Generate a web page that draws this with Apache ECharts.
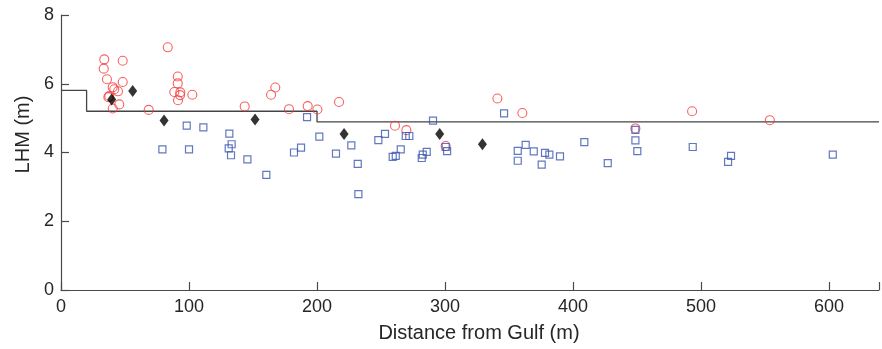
<!DOCTYPE html>
<html>
<head>
<meta charset="utf-8">
<script src="https://cdn.jsdelivr.net/npm/echarts@6/dist/echarts.min.js"></script>
<style>
html,body{margin:0;padding:0;background:#fff;}
#c{width:882px;height:349px;}
</style>
</head>
<body>
<div id="c"></div>
<script>
// ---- data (x = distance from Gulf in m, y = LHM in m) ----
const redCircles = [
  [33.8,6.71],[33.4,6.44],[48.2,6.67],[35.9,6.13],[48.2,6.05],[40.4,5.90],[44.5,5.78],
  [41.6,5.84],[37.7,5.64],[37.0,5.61],[45.5,5.40],[40.4,5.28],[68.5,5.24],[83.4,7.06],
  [91.2,6.21],[91.2,6.01],[88.5,5.76],[93.2,5.75],[93.0,5.67],[91.4,5.52],[102.6,5.68],
  [143.5,5.34],[167.4,5.89],[164.1,5.68],[178.1,5.26],[192.7,5.35],[200.3,5.25],
  [217.2,5.47],[260.9,4.78],[269.8,4.65],[300.5,4.19],[340.9,5.57],[360.4,5.15],
  [448.7,4.70],[493.0,5.20],[553.7,4.94]
];
const blueSquares = [
  [79.2,4.09],[100.0,4.09],[98.2,4.78],[111.2,4.73],[131.5,4.55],[133.3,4.24],[131.0,4.12],
  [132.8,3.92],[145.6,3.80],[160.4,3.35],[192.2,5.03],[201.8,4.46],[187.5,4.14],[182.0,4.00],
  [214.8,3.97],[226.8,4.21],[231.8,3.67],[232.3,2.79],[247.9,4.36],[253.1,4.54],[269.3,4.48],
  [272.1,4.48],[265.4,4.09],[261.5,3.90],[259.1,3.87],[281.8,3.84],[282.6,3.94],[285.7,4.02],
  [290.6,4.93],[300.5,4.16],[301.6,4.04],[346.1,5.14],[356.8,4.05],[356.8,3.76],[363.0,4.22],
  [369.3,4.03],[378.1,3.99],[381.5,3.94],[375.5,3.65],[389.8,3.89],[408.8,4.30],[427.1,3.69],
  [448.7,4.66],[448.7,4.35],[450.2,4.04],[493.5,4.16],[523.4,3.90],[521.1,3.73],[602.9,3.94]
];
const blackDiamonds = [
  [39.6,5.54],[56.0,5.79],[80.5,4.93],[151.6,4.96],[221.1,4.54],[295.8,4.54],[329.2,4.24]
];
// step line: value holds from each x until the next x
const stepLine = [[0,5.81],[20,5.20],[200,4.89],[639,4.89]];
const xTicks = [0,100,200,300,400,500,600];
const yTicks = [0,2,4,6,8];
const xTitle = 'Distance from Gulf (m)';
const yTitle = 'LHM (m)';

const FONT = 'Liberation Sans, Arial, Helvetica, sans-serif';
const axisColor = '#4a4a4a';
const textColor = '#262626';

const chart = echarts.init(document.getElementById('c'), null, {renderer:'canvas'});
chart.setOption({
  animation:false,
  backgroundColor:'#fff',
  grid:{left:61,right:1,top:15,bottom:59,containLabel:false},
  xAxis:{
    type:'value', min:0, max:639, interval:100,
    name:xTitle, nameLocation:'middle', nameGap:33,
    nameTextStyle:{fontFamily:FONT,fontSize:20,color:textColor,padding:[0,0,0,18]},
    axisLine:{show:true,lineStyle:{color:axisColor,width:1.2}},
    axisTick:{show:true,inside:true,length:8,lineStyle:{color:axisColor,width:1.2}},
    axisLabel:{fontFamily:FONT,fontSize:18,color:textColor,margin:8,
      formatter:function(v){return xTicks.indexOf(v)>=0?String(v):'';}},
    splitLine:{show:false}
  },
  yAxis:{
    type:'value', min:yTicks[0], max:yTicks[yTicks.length-1], interval:2,
    name:yTitle, nameLocation:'middle', nameGap:28, nameRotate:90,
    nameTextStyle:{fontFamily:FONT,fontSize:20,color:textColor,padding:[0,0,0,36]},
    axisLine:{show:true,lineStyle:{color:axisColor,width:1.2}},
    axisTick:{show:true,inside:true,length:8,lineStyle:{color:axisColor,width:1.2}},
    axisLabel:{fontFamily:FONT,fontSize:18,color:textColor,margin:7},
    splitLine:{show:false}
  },
  series:[
    {
      type:'line', data:stepLine, step:'end', symbol:'none',
      lineStyle:{color:'#444',width:1.3}, z:1, silent:true
    },
    {
      type:'scatter', data:redCircles, symbol:'circle', symbolSize:9,
      itemStyle:{color:'rgba(0,0,0,0)',borderColor:'#f53a3a',borderWidth:1.1}, z:2
    },
    {
      type:'scatter', data:blueSquares, symbol:'rect', symbolSize:7,
      itemStyle:{color:'rgba(0,0,0,0)',borderColor:'#3a56b0',borderWidth:1.2}, z:3
    },
    {
      type:'scatter', data:blackDiamonds, symbol:'diamond', symbolSize:[9,12],
      itemStyle:{color:'#000'}, z:4
    }
  ]
});
</script>
</body>
</html>
